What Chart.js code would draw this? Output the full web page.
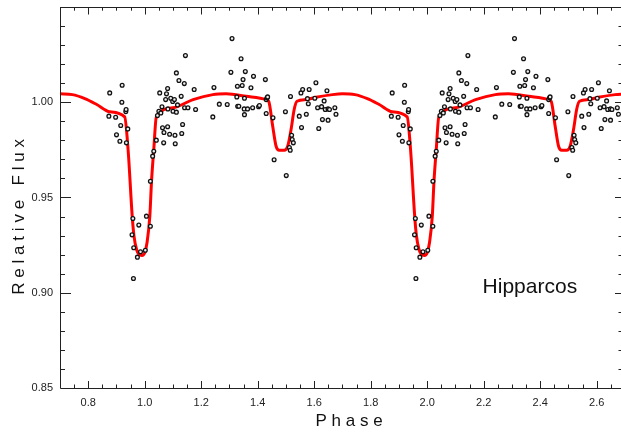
<!DOCTYPE html>
<html>
<head>
<meta charset="utf-8">
<script src="https://cdn.jsdelivr.net/npm/chart.js@4.4.1/dist/chart.umd.min.js"></script>
<style>
  html, body { margin: 0; padding: 0; background: #fff; }
</style>
</head>
<body>
<canvas id="lightCurve" width="621" height="438"></canvas>
<script>
// Hipparcos photometry, folded on the orbital period (one cycle)
const phase = [
    0.873, 0.876, 0.897, 0.900, 0.912, 0.915, 0.919, 0.920, 0.933, 0.934,
    0.935, 0.940, 0.955, 0.958, 0.960, 0.961, 0.974, 0.979, 0.985, 1.002,
    1.006, 1.020, 1.020, 1.028, 1.032, 1.041, 1.045, 1.050, 1.053, 1.057,
    1.061, 1.063, 1.067, 1.068, 1.074, 1.077, 1.081, 1.081, 1.082, 1.088,
    1.092, 1.099, 1.100, 1.105, 1.107, 1.108, 1.112, 1.112, 1.116, 1.121,
    1.129, 1.131, 1.134, 1.140, 1.141, 1.144, 1.153, 1.175, 1.180, 1.241,
    1.245, 1.264, 1.292, 1.305, 1.309, 1.326, 1.328, 1.329, 1.333, 1.341,
    1.345, 1.348, 1.352, 1.353, 1.353, 1.356, 1.364, 1.376, 1.382, 1.385,
    1.403, 1.406, 1.427, 1.430, 1.430, 1.433, 1.435, 1.454, 1.458, 1.498,
    1.501, 1.512, 1.515, 1.516, 1.520, 1.522, 1.526, 1.547, 1.553, 1.555,
    1.559, 1.572, 1.576, 1.579, 1.582, 1.602, 1.606, 1.612, 1.616, 1.626,
    1.629, 1.635, 1.639, 1.645, 1.649, 1.649, 1.654, 1.673, 1.677
];
const flux = [
    0.9927, 1.0049, 0.9921, 0.9829, 0.9795, 0.9878, 1.0000, 1.0089, 0.9951, 0.9962,
    0.9787, 0.9860, 0.9304, 0.9390, 0.9075, 0.9236, 0.9187, 0.9355, 0.9215, 0.9223,
    0.9402, 0.9585, 0.9349, 0.9717, 0.9743, 0.9801, 0.9930, 0.9953, 1.0049, 0.9944,
    0.9976, 0.9866, 0.9787, 0.9841, 1.0014, 1.0044, 1.0072, 0.9871, 0.9965, 0.9832,
    1.0021, 1.0004, 0.9953, 1.0014, 0.9827, 0.9782, 1.0154, 0.9948, 0.9986, 1.0114,
    1.0031, 0.9836, 0.9883, 1.0098, 0.9971, 1.0245, 0.9971, 1.0067, 0.9962, 0.9923,
    1.0077, 0.9990, 0.9988, 1.0157, 1.0334, 1.0028, 1.0084, 0.9979, 0.9979, 1.0228,
    1.0088, 1.0119, 0.9965, 1.0021, 0.9935, 1.0161, 0.9965, 1.0076, 0.9971, 1.0136,
    0.9976, 0.9983, 1.0119, 1.0014, 0.9941, 1.0023, 1.0028, 0.9918, 0.9698, 0.9950,
    0.9615, 0.9762, 0.9748, 1.0030, 0.9827, 0.9804, 0.9787, 0.9927, 1.0049, 0.9867,
    1.0067, 0.9937, 1.0019, 0.9992, 1.0067, 1.0021, 1.0102, 0.9971, 0.9862, 0.9977,
    0.9909, 1.0007, 0.9962, 1.0060, 0.9965, 0.9906, 0.9962, 0.9971, 0.9937
];

// model light curve, one cycle
const modelPhase = [
    0.700, 0.744, 0.788, 0.830, 0.876, 0.929, 0.941, 0.956, 0.962, 0.971,
    0.980, 0.990, 1.000, 1.008, 1.018, 1.024, 1.032, 1.041, 1.100, 1.171,
    1.241, 1.288, 1.359, 1.430, 1.439, 1.453, 1.465, 1.476, 1.494, 1.506,
    1.518, 1.529, 1.539, 1.571, 1.606, 1.665, 1.700
];
const modelFlux = [
    1.0044, 1.0040, 1.0019, 0.9988, 0.9950, 0.9923, 0.9752, 0.9394, 0.9297, 0.9227,
    0.9201, 0.9196, 0.9210, 0.9262, 0.9402, 0.9585, 0.9752, 0.9923, 0.9971, 1.0014,
    1.0040, 1.0044, 1.0031, 1.0014, 1.0004, 0.9874, 0.9769, 0.9748, 0.9748, 0.9769,
    0.9857, 0.9962, 1.0005, 1.0014, 1.0026, 1.0040, 1.0044
];

const xTicks = [0.8, 1.0, 1.2, 1.4, 1.6, 1.8, 2.0, 2.2, 2.4, 2.6];
const yTicks = [0.85, 0.90, 0.95, 1.00];

// phase plot shows the same cycle twice (phase and phase + 1)
const cycles = [0, 1];
const obsPoints = [];
const modelPoints = [];
cycles.forEach(c => {
    phase.forEach((p, i) => obsPoints.push({x: p + c, y: flux[i]}));
    modelPhase.forEach((p, i) => {
        if (c === 0 || i > 0) modelPoints.push({x: p + c, y: modelFlux[i]});
    });
});

const fontFamily = '"Liberation Sans", Arial, Helvetica, sans-serif';

// IDL style frame: inward ticks on all sides, letter-spaced titles
const framePlugin = {
    id: 'frame',
    afterDraw(chart) {
        const {ctx, chartArea: a, scales: {x, y}} = chart;
        ctx.save();
        ctx.strokeStyle = '#222';
        ctx.lineWidth = 1;
        ctx.beginPath();
        ctx.moveTo(a.left + 0.5, a.top + 0.5);
        ctx.lineTo(a.left + 0.5, a.bottom + 0.5);
        ctx.lineTo(a.right, a.bottom + 0.5);
        ctx.moveTo(a.left + 0.5, a.top + 0.5);
        ctx.lineTo(a.right, a.top + 0.5);

        for (let k = 15; k <= 54; k++) {
            const v = k * 0.05;
            const px = Math.round(x.getPixelForValue(v)) + 0.5;
            if (px < a.left || px > a.right) continue;
            const major = k % 4 === 0;
            ctx.moveTo(px, a.bottom);
            ctx.lineTo(px, a.bottom - (major ? 7 : 3.5));
            ctx.moveTo(px, a.top);
            ctx.lineTo(px, a.top + (major ? 7.5 : 3.7));
        }
        for (let k = 85; k <= 105; k++) {
            const v = k * 0.01;
            const py = Math.round(y.getPixelForValue(v)) + 0.5;
            if (py < a.top || py > a.bottom) continue;
            const major = k % 5 === 0;
            ctx.moveTo(a.left, py);
            ctx.lineTo(a.left + (major ? 11 : 5), py);
            ctx.moveTo(a.right, py);
            ctx.lineTo(a.right - (major ? 6 : 2.5), py);
        }
        ctx.stroke();

        ctx.fillStyle = '#111';
        ctx.font = '17px ' + fontFamily;
        ctx.letterSpacing = '4.8px';
        ctx.textAlign = 'center';
        ctx.textBaseline = 'middle';
        ctx.fillText('Phase', a.left + (a.right - a.left) / 2 + 11, 421);
        ctx.translate(19, a.top + (a.bottom - a.top) / 2 + 17);
        ctx.rotate(-Math.PI / 2);
        ctx.fillText('Relative Flux', 0, 0);
        ctx.restore();

        ctx.save();
        ctx.fillStyle = '#111';
        ctx.font = '21px ' + fontFamily;
        ctx.textAlign = 'left';
        ctx.textBaseline = 'alphabetic';
        ctx.fillText('Hipparcos', x.getPixelForValue(2.196), y.getPixelForValue(0.900));
        ctx.restore();
    }
};

new Chart(document.getElementById('lightCurve'), {
    type: 'scatter',
    data: {
        datasets: [
            {
                label: 'Hipparcos',
                data: obsPoints,
                pointRadius: 1.9,
                borderWidth: 1.3,
                borderColor: '#111',
                backgroundColor: '#eee',
            },
            {
                label: 'Model',
                data: modelPoints,
                showLine: true,
                pointRadius: 0,
                borderWidth: 3,
                borderColor: '#ff0000',
                cubicInterpolationMode: 'monotone',
            },
        ],
    },
    options: {
        responsive: false,
        animation: false,
        layout: {
            autoPadding: false,
            padding: {top: 7, right: 0, bottom: 0, left: 0},
        },
        plugins: {
            legend: {display: false},
            tooltip: {enabled: false},
        },
        scales: {
            x: {
                type: 'linear',
                min: 0.7,
                max: 2.686,
                grid: {display: false, drawTicks: false},
                border: {display: false},
                afterBuildTicks: scale => {
                    scale.ticks = xTicks.map(v => ({value: v}));
                },
                afterFit: scale => {
                    scale.height = 50;
                },
                ticks: {
                    padding: 8,
                    maxRotation: 0,
                    color: '#222',
                    font: {family: fontFamily, size: 11},
                    callback: v => v.toFixed(1),
                },
            },
            y: {
                type: 'linear',
                min: 0.85,
                max: 1.05,
                grid: {display: false, drawTicks: false},
                border: {display: false},
                afterBuildTicks: scale => {
                    scale.ticks = yTicks.map(v => ({value: v}));
                },
                afterFit: scale => {
                    scale.width = 60;
                    scale.paddingTop = 0;
                    scale.paddingBottom = 0;
                },
                ticks: {
                    padding: 7,
                    color: '#222',
                    font: {family: fontFamily, size: 11},
                    callback: v => v.toFixed(2),
                },
            },
        },
    },
    plugins: [framePlugin],
});
</script>
</body>
</html>
